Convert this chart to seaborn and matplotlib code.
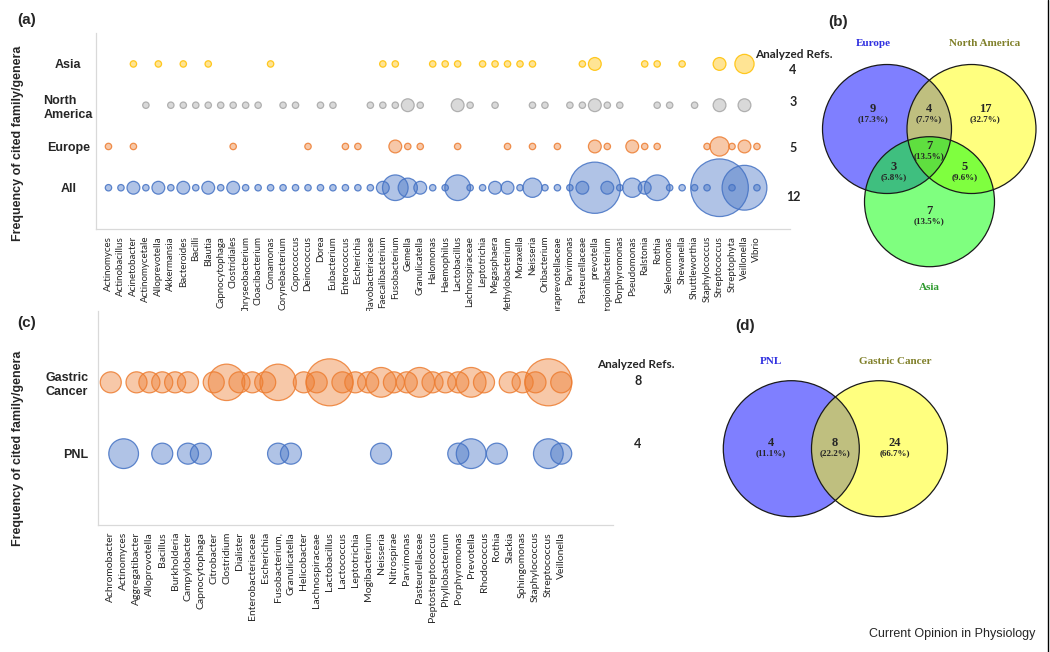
import numpy as np
import pandas as pd
import seaborn as sns
import matplotlib.pyplot as plt
from matplotlib.patches import Circle
from matplotlib.colors import to_rgba

# ----------------------
# Data
# ----------------------
genera_a = [
    "Actinomyces", "Actinobacillus", "Acinetobacter", "Actinomycetale", "Alloprevotella",
    "Akkermansia", "Bacteroides", "Bacilli", "Blautia", "Capnocytophaga", "Clostridiales",
    "Chryseobacterium", "Cloacibacterium", "Comamonas", "Corynebacterium", "Coprococcus",
    "Deinococcus", "Dorea", "Eubacterium", "Enterococcus", "Escherichia", "Flavobacteriaceae",
    "Faecalibacterium", "Fusobacterium", "Gemella", "Granulicatella", "Halomonas",
    "Haemophilus", "Lactobacillus", "Lachnospiraceae", "Leptotrichia", "Megasphaera",
    "Methylobacterium", "Moraxella", "Neisseria", "Oribacterium", "Paraprevotellaceae",
    "Parvimonas", "Pasteurellaceae", "prevotella", "Propionibacterium", "Porphyromonas",
    "Pseudomonas", "Ralstonia", "Rothia", "Selenomonas", "Shewanella", "Shuttleworthia",
    "Staphylococcus", "Streptococcus", "Streptophyta", "Veillonella", "Vibrio",
]
asia = [0, 0, 1, 0, 1, 0, 1, 0, 1, 0, 0, 0, 0, 1, 0, 0, 0, 0, 0, 0, 0, 0, 1, 1, 0, 0, 1,
        1, 1, 0, 1, 1, 1, 1, 1, 0, 0, 0, 1, 2, 0, 0, 0, 1, 1, 0, 1, 0, 0, 2, 0, 3, 0]
north_america = [0, 0, 0, 1, 0, 1, 1, 1, 1, 1, 1, 1, 1, 0, 1, 1, 0, 1, 1, 0, 0, 1, 1, 1, 2, 1, 0,
                 0, 2, 1, 0, 1, 0, 0, 1, 1, 0, 1, 1, 2, 1, 1, 0, 0, 1, 1, 0, 1, 0, 2, 0, 2, 0]
europe = [1, 0, 1, 0, 0, 0, 0, 0, 0, 0, 1, 0, 0, 0, 0, 0, 1, 0, 0, 1, 1, 0, 0, 2, 1, 1, 0,
          0, 1, 0, 0, 0, 1, 0, 1, 0, 1, 0, 0, 2, 1, 0, 2, 1, 1, 0, 0, 0, 1, 3, 1, 2, 1]
all_refs = [1, 1, 2, 1, 2, 1, 2, 1, 2, 1, 2, 1, 1, 1, 1, 1, 1, 1, 1, 1, 1, 1, 2, 4, 3, 2, 1,
            1, 4, 1, 1, 2, 2, 1, 3, 1, 1, 1, 2, 8, 2, 1, 3, 2, 4, 1, 1, 1, 1, 9, 1, 7, 1]
rows_a = ["All", "Europe", "North\nAmerica", "Asia"]
analyzed_a = [12, 5, 3, 4]

genera_c = [
    "Achromobacter", "Actinomyces", "Aggregatibacter", "Alloprovotella", "Bacillus",
    "Burkholderia", "Campylobacter", "Capnocytophaga", "Citrobacter", "Clostridium",
    "Dialister", "Enterobacteriaceae", "Escherichia", "Fusobacterium,", "Granulicatella",
    "Helicobacter", "Lachnospiraceae", "Lactobacillus", "Lactococcus", "Leptotrichia",
    "Mogibacterium", "Neisseria", "Nitrospirae", "Parvimonas", "Pasteurellaceae",
    "Peptostreptococcus", "Phyllobacterium", "Porphyromonas", "Prevotella", "Rhodococcus",
    "Rothia", "Slackia", "Sphingomonas", "Staphylococcus", "Streptococcus", "Veillonella",
]
gastric = [1, 0, 1, 1, 1, 1, 1, 0, 1, 3, 1, 1, 1, 3, 0, 1, 1, 5, 1, 1, 1, 2, 1, 1, 2, 1,
           1, 1, 2, 1, 0, 1, 1, 1, 5, 1]
pnl = [0, 2, 0, 0, 1, 0, 1, 1, 0, 0, 0, 0, 0, 1, 1, 0, 0, 0, 0, 0, 0, 1, 0, 0, 0, 0,
       0, 1, 2, 0, 1, 0, 0, 0, 2, 1]
rows_c = ["PNL", "Gastric\nCancer"]
analyzed_c = [4, 8]

venn_b_sets = ["Europe", "North America", "Asia"]
venn_b_counts = [9, 4, 17, 3, 7, 5, 7]   # E, E&NA, NA, E&A, all, NA&A, A
venn_d_sets = ["PNL", "Gastric Cancer"]
venn_d_counts = [4, 8, 24]               # PNL, both, GC

# ----------------------
# Figure helpers
# ----------------------
W, H, DPI = 1050, 652, 100
PX = 72 / DPI

sns.set_style("white")
plt.rcParams["font.family"] = ["Lato", "DejaVu Sans"]

fig = plt.figure(figsize=(W / DPI, H / DPI), dpi=DPI)


def px_axes(left, top, right, bottom):
    return fig.add_axes([left / W, 1 - bottom / H, (right - left) / W, (bottom - top) / H])


def bubble_row(ax, counts, row, color, area):
    pos = [i + 1 for i, c in enumerate(counts) if c > 0]
    vals = [c for c in counts if c > 0]
    df = pd.DataFrame({"pos": pos, "row": row, "n": vals})
    sns.scatterplot(data=df, x="pos", y="row", size="n",
                    sizes={v: area(v) for v in set(vals)},
                    color=to_rgba(color, 0.42), edgecolor=to_rgba(color, 0.85),
                    linewidth=0.9, legend=False, ax=ax, zorder=3, clip_on=False)


def style_axes(ax):
    sns.despine(ax=ax)
    for s in ("left", "bottom"):
        ax.spines[s].set_color("#d9d9d9")
        ax.spines[s].set_linewidth(0.9)
    ax.tick_params(axis="both", length=3, color="#d0d0d0", width=0.8)
    ax.set_xlabel("")
    ax.set_ylabel("")


# ----------------------
# (a) bubble chart by region
# ----------------------
ax_a = px_axes(96, 33, 790, 229)
area_a = lambda v: (6.4 * PX * v) ** 2
bubble_row(ax_a, all_refs, 1, "#4472c4", area_a)
bubble_row(ax_a, europe, 2, "#ed7d31", area_a)
bubble_row(ax_a, north_america, 3, "#a5a5a5", area_a)
bubble_row(ax_a, asia, 4, "#ffc000", area_a)
ax_a.set_xlim(0, 55.65)
ax_a.set_ylim(0, 4.75)
style_axes(ax_a)
ax_a.set_xticks(range(1, len(genera_a) + 1))
ax_a.set_xticklabels(genera_a, rotation=90, fontsize=7)
ax_a.set_yticks(range(1, 5))
ax_a.set_yticklabels(rows_a, fontsize=9, fontweight="bold", family="Liberation Sans",
                     ha="center", multialignment="left")
ax_a.tick_params(axis="y", pad=17)
ax_a.tick_params(axis="x", pad=2)

fig.text(794 / W, 1 - 54 / H, "Analyzed Refs.", ha="center", va="center",
         fontsize=8.5, fontweight="bold")
for n, y in zip(analyzed_a, [197, 148, 102, 70]):
    fig.text(793 / W, 1 - y / H, str(n), ha="center", va="center",
             fontsize=9, fontweight="bold")

# ----------------------
# (c) bubble chart by disease
# ----------------------
ax_c = px_axes(97.9, 311, 612.7, 525)
area_c = lambda v: (21 * PX) ** 2 * v
bubble_row(ax_c, gastric, 2, "#ed7d31", area_c)
bubble_row(ax_c, pnl, 1, "#4472c4", area_c)
ax_c.set_xlim(0, 40)
ax_c.set_ylim(0, 3)
style_axes(ax_c)
ax_c.set_xticks(range(1, len(genera_c) + 1))
ax_c.set_xticklabels(genera_c, rotation=90, fontsize=7.5)
ax_c.set_yticks([1, 2])
ax_c.set_yticklabels(rows_c, fontsize=9, fontweight="bold", family="Liberation Sans",
                     multialignment="left")
ax_c.tick_params(axis="y", pad=4)
ax_c.tick_params(axis="x", pad=2)

fig.text(636 / W, 1 - 365 / H, "Analyzed Refs.", ha="center", va="center",
         fontsize=8.5, fontweight="bold")
for n, y in zip(analyzed_c, [444, 381]):
    fig.text(638 / W, 1 - y / H, str(n), ha="center", va="center",
             fontsize=9, fontweight="bold")

for y in (143, 448):
    fig.text(18 / W, 1 - y / H, "Frequency of cited family/genera", rotation=90,
             ha="center", va="center", fontsize=9, fontweight="bold",
             family="Liberation Sans")

# ----------------------
# Venn diagrams (pixel overlay)
# ----------------------
ov = fig.add_axes([0, 0, 1, 1], zorder=5)
ov.set_xlim(0, W)
ov.set_ylim(H, 0)
ov.axis("off")
ov.patch.set_alpha(0)

serif = "Liberation Serif"


def venn(circles, colors):
    for (cx, cy, r), c in zip(circles, colors):
        ov.add_patch(Circle((cx, cy), r, facecolor=to_rgba(c, 0.5), edgecolor="none"))
    for cx, cy, r in circles:
        ov.add_patch(Circle((cx, cy), r, fill=False, edgecolor="#1a1a1a", lw=0.9))


def region_text(x, y, n, total):
    ov.text(x, y, str(n), ha="center", va="center", fontsize=9,
            fontweight="bold", family=serif)
    ov.text(x, y + 10, f"({100 * n / total:.1f}%)", ha="center", va="center",
            fontsize=6.5, fontweight="bold", family=serif)


venn([(887, 129, 64.5), (971.5, 129, 64.5), (929.5, 201.7, 65)],
     ["#0000ff", "#ffff00", "#00ff00"])
total_b = sum(venn_b_counts)
for n, (x, y) in zip(venn_b_counts, [(873, 109), (929, 109), (985, 109), (894, 167),
                                     (929, 146), (965, 167), (929, 211)]):
    region_text(x, y, n, total_b)
for name, (x, y), c in zip(venn_b_sets, [(873, 44), (985, 44), (929, 287)],
                           ["#3030e0", "#80802a", "#2e9a2e"]):
    ov.text(x, y, name, ha="center", va="center", fontsize=8, fontweight="bold",
            family=serif, color=c)

venn([(791.3, 448.7, 68), (879.5, 448.7, 68)], ["#0000ff", "#ffff00"])
total_d = sum(venn_d_counts)
for n, (x, y) in zip(venn_d_counts, [(771, 443), (835, 443), (895, 443)]):
    region_text(x, y, n, total_d)
for name, x, c in zip(venn_d_sets, [771, 895], ["#3030e0", "#80802a"]):
    ov.text(x, 362, name, ha="center", va="center", fontsize=8, fontweight="bold",
            family=serif, color=c)

# panel letters and credit
for lab, (x, y) in zip(["(a)", "(b)", "(c)", "(d)"],
                       [(27, 20), (838, 22), (27, 323), (745, 326)]):
    ov.text(x, y, lab, ha="center", va="center", fontsize=11, fontweight="bold",
            family="Liberation Sans")
ov.text(1035, 634, "Current Opinion in Physiology", ha="right", va="center",
        fontsize=9, family="Liberation Sans")
ov.plot([1048, 1048], [0, H], color="black", lw=1)

fig.savefig("out.png", dpi=DPI)
